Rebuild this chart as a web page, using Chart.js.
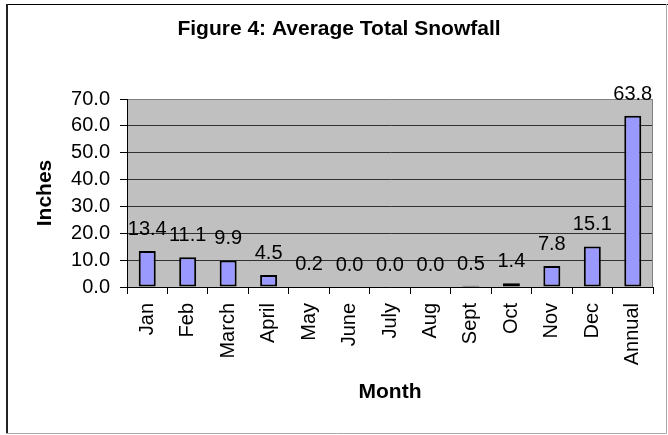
<!DOCTYPE html>
<html lang="en">
<head>
    <meta charset="UTF-8">
    <title>Average Total Snowfall</title>
    <style>
      html, body { margin: 0; padding: 0; background: #fff; }
      #chart { display: block; }
    </style>
    <script src="https://cdn.jsdelivr.net/npm/chart.js"></script>
</head>
<body>
    <canvas id="chart" width="668" height="435"></canvas>
    <script>
    // chart data
    const months = ['Jan', 'Feb', 'March', 'April', 'May', 'June', 'July', 'Aug', 'Sept', 'Oct', 'Nov', 'Dec', 'Annual'];
    const snowfall = [13.4, 11.1, 9.9, 4.5, 0.2, 0.0, 0.0, 0.0, 0.5, 1.4, 7.8, 15.1, 63.8];
    const yTicks = [0, 10, 20, 30, 40, 50, 60, 70];

    Chart.defaults.font.family = "'Liberation Sans', Arial, sans-serif";
    Chart.defaults.color = '#000';

    // grey plot background + right border, outer frame
    const frame = {
      id: 'frame',
      beforeDraw(chart) {
        const { ctx, chartArea: a } = chart;
        ctx.save();
        ctx.fillStyle = '#c0c0c0';
        ctx.fillRect(a.left, a.top, a.right - a.left, a.bottom - a.top);
        ctx.restore();
      },
      afterDraw(chart) {
        const { ctx, chartArea: a } = chart;
        ctx.save();
        ctx.strokeStyle = '#808080';
        ctx.lineWidth = 1;
        ctx.beginPath();
        ctx.moveTo(a.right - 0.5, a.top);
        ctx.lineTo(a.right - 0.5, a.bottom);
        ctx.stroke();
        // outer border
        ctx.strokeStyle = '#000';
        ctx.beginPath();
        ctx.moveTo(6, 4.5);
        ctx.lineTo(668, 4.5);
        ctx.stroke();
        ctx.strokeStyle = '#222';
        ctx.lineWidth = 2;
        ctx.beginPath();
        ctx.moveTo(7, 4);
        ctx.lineTo(7, 434);
        ctx.stroke();
        ctx.strokeStyle = '#aaa';
        ctx.lineWidth = 1;
        ctx.beginPath();
        ctx.moveTo(6, 433.5);
        ctx.lineTo(666.5, 433.5);
        ctx.lineTo(666.5, 4);
        ctx.stroke();
        ctx.restore();
      }
    };

    // value labels above the bars
    const valueLabels = {
      id: 'valueLabels',
      afterDatasetsDraw(chart) {
        const { ctx } = chart;
        const meta = chart.getDatasetMeta(0);
        ctx.save();
        ctx.font = "20px 'Liberation Sans', Arial, sans-serif";
        ctx.fillStyle = '#000';
        ctx.textAlign = 'center';
        ctx.textBaseline = 'alphabetic';
        meta.data.forEach((bar, i) => {
          ctx.fillText(snowfall[i].toFixed(1), bar.x, bar.y - 16);
        });
        ctx.restore();
      }
    };

    new Chart(document.getElementById('chart'), {
      type: 'bar',
      data: {
        labels: months,
        datasets: [{
          data: snowfall,
          backgroundColor: '#9999ff',
          borderColor: '#000',
          borderWidth: 2,
          borderSkipped: false,
          barPercentage: 0.42,
          categoryPercentage: 1
        }]
      },
      options: {
        responsive: false,
        devicePixelRatio: 1,
        animation: false,
        layout: { padding: { left: 25, right: 15, top: 0, bottom: 0 } },
        plugins: {
          legend: { display: false },
          tooltip: { enabled: false },
          title: {
            display: true,
            text: 'Figure 4: Average Total Snowfall',
            font: { size: 21, weight: 'bold' },
            color: '#000',
            padding: { top: 17, bottom: 56.8 }
          }
        },
        scales: {
          x: {
            offset: true,
            grid: { drawOnChartArea: false, tickLength: 7, tickColor: '#000', offset: true },
            border: { color: '#000', width: 1 },
            ticks: { maxRotation: 90, minRotation: 90, padding: 9, font: { size: 20 }, color: '#000', autoSkip: false },
            title: { display: true, text: 'Month', font: { size: 21, weight: 'bold' }, color: '#000', padding: { top: 0, bottom: 30 } },
            afterFit(scale) { scale.height = 148; }
          },
          y: {
            min: 0,
            max: 70,
            afterBuildTicks(scale) { scale.ticks = yTicks.map(v => ({ value: v })); },
            grid: {
              color: c => (c.tick && c.tick.value === 70) ? '#808080' : '#303030',
              tickColor: '#000',
              tickLength: 7
            },
            border: { color: '#000', width: 1 },
            ticks: { padding: 10, font: { size: 20 }, color: '#000', autoSkip: false, callback: v => Number(v).toFixed(1) },
            title: { display: true, text: 'Inches', font: { size: 21, weight: 'bold' }, color: '#000', padding: { top: 7.4, bottom: 0 } },
            afterFit(scale) { scale.width = 102; }
          }
        }
      },
      plugins: [frame, valueLabels]
    });
    </script>
</body>
</html>
